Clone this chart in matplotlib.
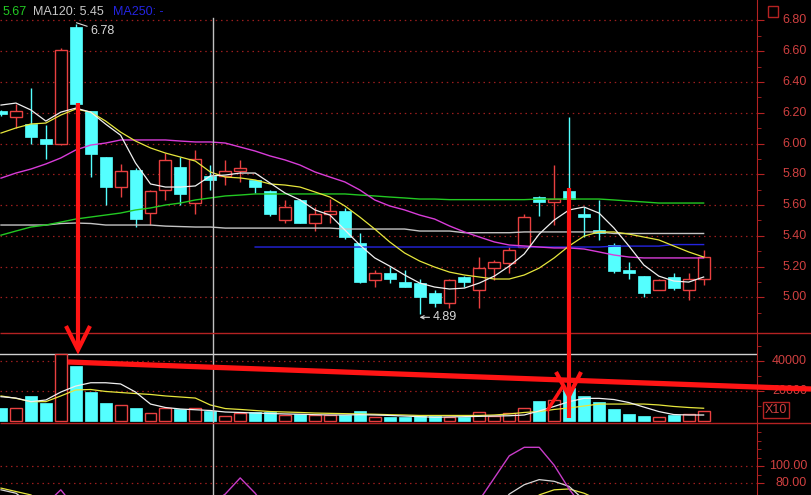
import numpy as np
import matplotlib.pyplot as plt
import matplotlib.transforms as mtransforms
from matplotlib.lines import Line2D
from matplotlib.patches import Rectangle

plt.rcParams['font.family'] = ['Liberation Sans', 'DejaVu Sans']

# daily candles (price)
opens = [6.21, 6.17, 6.13, 6.03, 6.00, 6.76, 6.21, 5.91, 5.72, 5.83, 5.55, 5.70,
         5.85, 5.61, 5.79, 5.79, 5.82, 5.76, 5.69, 5.50, 5.63, 5.48, 5.54, 5.56,
         5.35, 5.11, 5.16, 5.10, 5.09, 5.03, 4.96, 5.13, 5.05, 5.19, 5.22, 5.33,
         5.65, 5.62, 5.69, 5.54, 5.44, 5.34, 5.18, 5.14, 5.05, 5.13, 5.05, 5.12]
closes = [6.19, 6.21, 6.04, 6.00, 6.61, 6.26, 5.93, 5.72, 5.82, 5.51, 5.69, 5.89,
          5.67, 5.90, 5.76, 5.82, 5.84, 5.72, 5.54, 5.59, 5.48, 5.54, 5.56, 5.39,
          5.10, 5.16, 5.12, 5.07, 5.00, 4.96, 5.11, 5.10, 5.19, 5.23, 5.31, 5.52,
          5.62, 5.64, 5.64, 5.52, 5.42, 5.17, 5.16, 5.03, 5.11, 5.06, 5.12, 5.26]
highs = [6.22, 6.26, 6.36, 6.12, 6.62, 6.78, 6.21, 5.91, 5.87, 5.84, 5.70, 5.94,
         5.91, 5.96, 5.86, 5.89, 5.89, 5.76, 5.70, 5.63, 5.64, 5.59, 5.64, 5.58,
         5.42, 5.18, 5.20, 5.18, 5.12, 5.05, 5.12, 5.14, 5.26, 5.24, 5.33, 5.54,
         5.66, 5.86, 6.17, 5.59, 5.63, 5.35, 5.23, 5.14, 5.12, 5.16, 5.16, 5.31]
lows = [6.18, 6.10, 6.00, 5.90, 5.99, 6.24, 5.78, 5.60, 5.65, 5.46, 5.47, 5.63,
        5.60, 5.54, 5.70, 5.73, 5.75, 5.68, 5.53, 5.48, 5.48, 5.43, 5.48, 5.38,
        5.09, 5.07, 5.09, 5.07, 4.89, 4.94, 4.93, 5.07, 4.93, 5.11, 5.16, 5.32,
        5.53, 5.47, 5.60, 5.39, 5.37, 5.16, 5.12, 5.00, 5.05, 5.05, 4.98, 5.08]

ma5 = [6.25, 6.263, 6.218, 6.146, 6.204, 6.23, 6.204, 6.126, 6.054, 5.873,
       5.737, 5.717, 5.717, 5.724, 5.789, 5.795, 5.808, 5.808, 5.743, 5.678,
       5.633, 5.568, 5.535, 5.438, 5.34, 5.256, 5.203, 5.145, 5.093, 5.067,
       5.054, 5.06, 5.093, 5.138, 5.203, 5.282, 5.411, 5.502, 5.568, 5.587,
       5.548, 5.451, 5.334, 5.21, 5.138, 5.106, 5.099, 5.132]
ma10 = [6.068, 6.101, 6.127, 6.133, 6.185, 6.224, 6.204, 6.146, 6.074, 6.016,
        5.971, 5.938, 5.912, 5.886, 5.815, 5.782, 5.776, 5.763, 5.737, 5.73,
        5.717, 5.685, 5.652, 5.594, 5.522, 5.444, 5.36, 5.288, 5.236, 5.197,
        5.164, 5.145, 5.132, 5.119, 5.119, 5.145, 5.19, 5.256, 5.334, 5.398,
        5.425, 5.425, 5.411, 5.392, 5.373, 5.334, 5.295, 5.262]
ma20 = [5.775, 5.808, 5.834, 5.867, 5.906, 5.958, 5.99, 6.003, 6.023, 6.023,
        6.023, 6.023, 6.016, 6.01, 6.01, 6.003, 5.977, 5.951, 5.919, 5.893,
        5.86, 5.815, 5.782, 5.75, 5.698, 5.633, 5.594, 5.568, 5.535, 5.509,
        5.464, 5.425, 5.392, 5.36, 5.34, 5.334, 5.327, 5.321, 5.321, 5.314,
        5.295, 5.275, 5.262, 5.256, 5.256, 5.256, 5.256, 5.256]
ma60 = [5.404, 5.431, 5.457, 5.47, 5.489, 5.509, 5.522, 5.535, 5.548, 5.568,
        5.581, 5.60, 5.613, 5.633, 5.646, 5.659, 5.665, 5.672, 5.672, 5.672,
        5.672, 5.672, 5.672, 5.672, 5.665, 5.659, 5.652, 5.646, 5.639, 5.639,
        5.635, 5.635, 5.635, 5.635, 5.635, 5.635, 5.639, 5.639, 5.639, 5.639,
        5.639, 5.633, 5.626, 5.62, 5.613, 5.613, 5.613, 5.613]
ma120 = [5.47, 5.47, 5.47, 5.47, 5.48, 5.483, 5.48, 5.47, 5.47, 5.47,
         5.47, 5.463, 5.46, 5.457, 5.457, 5.45, 5.45, 5.45, 5.45, 5.45,
         5.45, 5.45, 5.45, 5.444, 5.444, 5.444, 5.444, 5.444, 5.431, 5.431,
         5.431, 5.42, 5.42, 5.42, 5.42, 5.425, 5.425, 5.425, 5.425, 5.425,
         5.425, 5.415, 5.415, 5.415, 5.415, 5.415, 5.415, 5.415]
ma250 = [np.nan] * 17 + [5.327] * 24 + [5.333] * 4 + [5.343] * 3

# volume panel
volume = [8900, 8400, 16700, 12200, 44500, 36700, 19100, 12200, 10700, 8900,
          5600, 8400, 7800, 8400, 6900, 3300, 5100, 5800, 6200, 4000,
          4400, 4000, 4000, 4000, 6700, 2400, 2900, 2900, 3300, 3300,
          2900, 2900, 6200, 3300, 5600, 8400, 13500, 14000, 22000, 16900,
          12400, 8000, 4400, 3600, 2400, 4000, 4400, 6700]
vol_ma5 = [16200, 15300, 12900, 14000, 19300, 23300, 25500, 25500, 24700, 19300,
           11300, 9000, 8000, 7500, 7000, 6000, 5700, 5300, 5000, 4700,
           4500, 4200, 4000, 4000, 4200, 4000, 3700, 3300, 2900, 2500,
           2700, 2900, 3100, 3300, 3500, 4000, 6700, 9700, 12900, 15100,
           15100, 14300, 12300, 9300, 6300, 4300, 4000, 4000]
vol_ma10 = [16700, 15100, 12900, 12900, 16700, 20700, 21000, 19700, 19000, 18300,
            17700, 16700, 16000, 15300, 10700, 8300, 7700, 7000, 6300, 6000,
            5700, 5300, 5100, 4900, 4700, 4500, 4200, 4000, 3700, 3700,
            3700, 3700, 3700, 4000, 4700, 5700, 6300, 7700, 8700, 10000,
            11300, 11300, 11300, 11300, 10700, 9700, 9000, 8500]

# indicator panel (mostly below the visible range)
ind_purple = [40, 40, 40, 55, 72, 50] + [40] * 8 + [55, 67, 86, 68, 45] + [40] * 13 + \
             [60, 86, 112, 122, 122, 101, 73, 50] + [40] * 8
ind_white = [72, 68, 55] + [45] * 31 + [67, 78, 84, 82, 76, 60] + [45] * 8
ind_yellow = [74, 70, 66, 55] + [45] * 32 + [66, 72, 73, 68, 60] + [45] * 7

price_ticks = [5.0, 5.2, 5.4, 5.6, 5.8, 6.0, 6.2, 6.4, 6.6, 6.8]
vol_ticks = [20000, 40000]
ind_ticks = [80, 100]

W, H = 811, 495
RED_AX = '#b42222'
GRID = '#9c1e1e'
LBL = '#d04040'
CYAN = '#54ffff'
UP = '#e84040'
MARK = '#ff1414'

opens = np.array(opens)
closes = np.array(closes)
highs = np.array(highs)
lows = np.array(lows)
volume = np.array(volume)
idx = np.arange(len(opens))
up = closes >= opens
lo = np.minimum(opens, closes)
hi = np.maximum(opens, closes)

fig = plt.figure(figsize=(W / 100, H / 100), dpi=100, facecolor='black')


def box(top, bottom):
    return [0, 1 - bottom / H, 757 / W, (bottom - top) / H]


ax_p = fig.add_axes(box(0, 333))
ax_v = fig.add_axes(box(333, 423))
ax_i = fig.add_axes(box(423, 495))

for ax in (ax_p, ax_v, ax_i):
    ax.set_facecolor('black')
    for s in ('top', 'left', 'bottom'):
        ax.spines[s].set_visible(False)
    ax.spines['right'].set_color(RED_AX)
    ax.set_xlim(-0.067, 50.57)
    ax.set_xticks([])
    ax.yaxis.tick_right()
    ax.tick_params(axis='y', which='major', colors=RED_AX, direction='out',
                   labelright=False, length=5)
    ax.tick_params(axis='y', which='minor', colors=RED_AX, direction='out', length=3)
    ax.grid(axis='y', which='major', color=GRID, linestyle=(0, (1.2, 3)), linewidth=0.9)
    ax.set_axisbelow(True)

# price panel
ax_p.set_ylim(4.768, 6.933)
ax_p.set_yticks(price_ticks)
ax_p.set_yticks(np.arange(4.9, 6.9, 0.1), minor=True)
ax_p.vlines(idx[~up], lows[~up], highs[~up], color=CYAN, lw=1, zorder=2)
ax_p.vlines(idx[up], hi[up], highs[up], color=UP, lw=1, zorder=2)
ax_p.vlines(idx[up], lows[up], lo[up], color=UP, lw=1, zorder=2)
ax_p.bar(idx[~up], (hi - lo)[~up], 0.8, bottom=lo[~up], color=CYAN,
         edgecolor=CYAN, lw=0.5, zorder=3)
ax_p.bar(idx[up], (hi - lo)[up], 0.8, bottom=lo[up], facecolor='black',
         edgecolor=UP, lw=1, zorder=3)
ax_p.plot(idx, ma120, color='#c4c4c4', lw=1, zorder=4)
ax_p.plot(idx, ma250, color='#2424e0', lw=1, zorder=4)
ax_p.plot(idx, ma60, color='#22c822', lw=1, zorder=4)
ax_p.plot(idx, ma20, color='#d83cd8', lw=1, zorder=4)
ax_p.plot(idx, ma10, color='#e6e63c', lw=0.9, zorder=5)
ax_p.plot(idx, ma5, color='#f0f0f0', lw=0.9, zorder=5)

ax_p.annotate('6.78', xy=(5.05, 6.785), xytext=(5.95, 6.73), color='#d8d8d8',
              fontsize=9, va='center', ha='left',
              arrowprops=dict(arrowstyle='-', color='#d8d8d8', lw=0.8,
                              shrinkA=0, shrinkB=0))
ax_p.annotate('4.89', xy=(28.0, 4.87), xytext=(28.85, 4.87), color='#d8d8d8',
              fontsize=9, va='center', ha='left',
              arrowprops=dict(arrowstyle='->', color='#d8d8d8', lw=0.8,
                              shrinkA=0, shrinkB=0, mutation_scale=6))

# volume panel
ax_v.set_ylim(-1333, 58667)
ax_v.set_yticks(vol_ticks)
ax_v.set_yticks([10000, 30000, 50000], minor=True)
ax_v.axhline(44667, color='#d0d0d0', lw=1, zorder=2)
ax_v.bar(idx[~up], volume[~up], 0.8, color=CYAN, edgecolor=CYAN, lw=0.5, zorder=3)
ax_v.bar(idx[up], volume[up], 0.8, facecolor='black', edgecolor=UP, lw=1, zorder=3)
ax_v.plot(idx, vol_ma10, color='#e6e63c', lw=0.9, zorder=4)
ax_v.plot(idx, vol_ma5, color='#f0f0f0', lw=0.9, zorder=4)

# indicator panel
ax_i.set_ylim(65.9, 150.6)
ax_i.set_yticks(ind_ticks)
ax_i.set_yticks([90, 110, 120, 130, 140], minor=True)
ax_i.plot(idx, ind_yellow, color='#e6e63c', lw=0.9)
ax_i.plot(idx, ind_white, color='#d8d8d8', lw=0.9)
ax_i.plot(idx, ind_purple, color='#c83cc8', lw=1)

# crosshair
ax_p.axvline(14.18, ymax=1 - 18 / 333, color='#c0c0c0', lw=1, zorder=6)
ax_v.axvline(14.18, color='#c0c0c0', lw=1, zorder=6)
ax_i.axvline(14.18, color='#c0c0c0', lw=1, zorder=6)


def right_labels(ax, vals, fmt):
    tr = mtransforms.blended_transform_factory(fig.transFigure, ax.transData)
    for v in vals:
        ax.text(807 / W, v, fmt.format(v), transform=tr, ha='right', va='center',
                color=LBL, fontsize=9)


right_labels(ax_p, price_ticks, '{:.2f}')
right_labels(ax_v, vol_ticks, '{:d}')
right_labels(ax_i, ind_ticks, '{:.2f}')
fig.text(776 / W, 1 - 410 / H, 'X10', ha='center', va='center', color=LBL, fontsize=9,
         bbox=dict(boxstyle='square,pad=0.15', facecolor='black', edgecolor=RED_AX, lw=1))


def fig_line(pts, lw, color, z=20):
    xs = [p[0] / W for p in pts]
    ys = [1 - p[1] / H for p in pts]
    fig.add_artist(Line2D(xs, ys, transform=fig.transFigure, color=color, lw=lw,
                          solid_capstyle='butt', solid_joinstyle='miter', zorder=z))


# panel separators
fig_line([(0, 333), (W, 333)], 1, RED_AX, 10)
fig_line([(0, 423), (W, 423)], 1, RED_AX, 10)
fig.add_artist(Rectangle((768 / W, 1 - 17 / H), 10 / W, 11 / H, transform=fig.transFigure,
                         facecolor='none', edgecolor=RED_AX, lw=1))

# header
fig.text(3 / W, 1 - 12 / H, '5.67', color='#22c822', fontsize=9, va='center')
fig.text(33 / W, 1 - 12 / H, 'MA120: 5.45', color='#c8c8c8', fontsize=9, va='center')
fig.text(113 / W, 1 - 12 / H, 'MA250: -', color='#2424e0', fontsize=9, va='center')

# hand-drawn red marks
fig_line([(78, 103), (78, 347)], 3, MARK)
fig_line([(66, 326), (78, 350), (90, 326)], 3, MARK)
fig_line([(569, 188), (569, 418)], 3, MARK)
fig_line([(556, 372), (569, 396), (581, 372)], 3, MARK)
fig_line([(547, 411), (563, 386)], 2.5, MARK)
fig_line([(68, 362), (W, 389)], 3.8, MARK)

fig.savefig('out.png', dpi=100, facecolor='black')
